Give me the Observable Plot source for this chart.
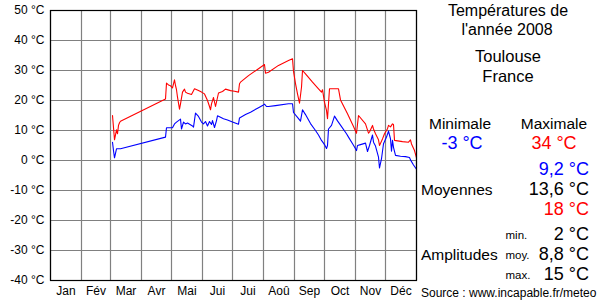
<!DOCTYPE html>
<html><head><meta charset="utf-8">
<script src="https://cdn.jsdelivr.net/npm/d3@7"></script>
<script src="https://cdn.jsdelivr.net/npm/@observablehq/plot@0.6"></script>
<style>
body{margin:0;background:#fff;}
#wrap{position:relative;width:600px;height:300px;font-family:"Liberation Sans",Arial,sans-serif;overflow:hidden;}
.t{position:absolute;white-space:nowrap;line-height:1;}
</style></head><body><div id="wrap"></div>
<script>
// Day of year (0 = 1 Jan 2008), temperature °C
const maxSeries = [[62,15],[64,6.9],[66,10.2],[67,8.9],[68,11.7],[69,12.6],[70,13.1],[115,20.5],[116,25.8],[118,25.2],[120,24.9],[122,24.2],[124,26.9],[125,25],[126,23.6],[127,21.1],[129,17.1],[130,18.9],[132,22.8],[134,23.8],[135,22.8],[137,22.4],[141,22],[144,23.9],[148,23.3],[151,22.8],[154,22.2],[157,20],[159,18],[160,16.9],[161,18.9],[163,21],[165,18],[168,22.5],[172,23],[175,23.8],[180,23.3],[184,23.1],[188,22.8],[189,25.6],[190,26.1],[198,28.3],[208,30.6],[214,32],[215,29.1],[218,29.4],[228,31.7],[238,33.3],[242,33.9],[243,29.7],[245,25.6],[247,22.2],[249,19.1],[251,24.4],[252,30],[255,28.9],[262,26.1],[268,23.9],[271,22.8],[272,23.6],[274,19.4],[276,16.7],[277,13.9],[278,18.9],[279,23.9],[288,23.9],[290,20.2],[297,15.6],[303,11.3],[306,9.1],[308,15],[315,12.2],[318,9.1],[319,9.5],[322,11.7],[323,10.5],[325,8.9],[328,6.9],[329,5],[332,7.2],[334,8.9],[337,10.6],[338,11.7],[340,11.2],[342,12.2],[343,12],[344,6.7],[352,6.3],[358,6.1],[360,6.9],[361,5.5],[364,3.3],[366,0.9]];
const minSeries = [[62,6.1],[63,3.3],[64,0.9],[66,3.9],[70,3.9],[115,7.8],[116,10.9],[122,10.9],[124,12.2],[126,12.8],[128,13.3],[130,13.8],[131,10.5],[133,12.8],[135,12.2],[137,12.5],[142,11.5],[143,11.1],[145,15.8],[148,14.7],[151,12.8],[153,12.2],[155,13],[157,11.5],[159,13],[161,12],[162,13.3],[164,11],[166,13.3],[167,14.9],[170,14.4],[173,13.9],[177,13.5],[182,12.8],[188,12.1],[189,14.2],[195,15.3],[200,16.1],[208,17.6],[212,18.3],[214,18.8],[216,18],[218,18],[225,18.3],[238,18.9],[242,18.9],[243,16],[247,14.4],[250,13.1],[252,16.9],[255,15.3],[260,12.3],[265,10],[268,8.5],[271,6.7],[273,5.8],[274,5.3],[276,4],[277,5],[278,10.5],[281,11.7],[284,14.8],[287,13.2],[290,11.8],[296,8.9],[298,7.8],[303,5.1],[306,3.3],[307,5],[310,5.3],[315,5.8],[317,3],[319,5],[322,8.5],[323,6.1],[325,4.8],[328,1.1],[329,-2.5],[331,0.6],[333,5.6],[336,7.8],[338,9.8],[339,8.5],[340,7.2],[341,3.1],[342,6.7],[343,4.4],[345,1.7],[350,1.4],[355,1.3],[359,1],[360,0.2],[363,-1.5],[366,-2.9]];

const monthLabels = ["Jan","Fév","Mar","Avr","Mai","Jui","Jui","Aoû","Sep","Oct","Nov","Déc"];
const monthStarts = [0,31,60,91,121,152,182,213,244,274,305,335,366];
const yTicks = [-40,-30,-20,-10,0,10,20,30,40,50];

// Side panel texts
const panelTexts = [
  ["Températures de", 508, 16, 16, "#000", "middle"],
  ["l'année 2008", 507, 35, 16, "#000", "middle"],
  ["Toulouse", 508, 62, 16.5, "#000", "middle"],
  ["France", 508, 81.5, 16.5, "#000", "middle"],
  ["Minimale", 460, 129, 15.5, "#000", "middle"],
  ["Maximale", 554, 129, 15.5, "#000", "middle"],
  ["-3 °C", 462, 149, 18, "#0000ff", "middle"],
  ["34 °C", 554, 149, 18, "#ff0000", "middle"],
  ["9,2 °C", 589, 175, 18, "#0000ff", "end"],
  ["Moyennes", 421, 194.5, 15.5, "#000", "start"],
  ["13,6 °C", 589, 195, 18, "#000", "end"],
  ["18 °C", 589, 214.5, 18, "#ff0000", "end"],
  ["min.", 505.5, 240, 11.5, "#000", "start"],
  ["2 °C", 589, 240, 18, "#000", "end"],
  ["Amplitudes", 421, 259.5, 15.5, "#000", "start"],
  ["moy.", 505.5, 260, 11.5, "#000", "start"],
  ["8,8 °C", 589, 260, 18, "#000", "end"],
  ["max.", 505.5, 279.5, 11.5, "#000", "start"],
  ["15 °C", 589, 279.5, 18, "#000", "end"],
  ["Source : www.incapable.fr/meteo", 421, 297, 12, "#000", "start"]
];

const monthMids = monthLabels.map((m, i) => (monthStarts[i] + monthStarts[i + 1]) / 2);

const plot = Plot.plot({
  width: 600, height: 300,
  marginLeft: 50, marginRight: 184, marginTop: 10, marginBottom: 20,
  style: {fontFamily: '"Liberation Sans", Arial, sans-serif', fontSize: "12px", color: "#000", background: "#fff"},
  x: {domain: [0, 366]},
  y: {domain: [-40, 50]},
  marks: [
    Plot.ruleY(yTicks, {stroke: "#808080", strokeWidth: 1.2, strokeOpacity: 1}),
    Plot.ruleX(monthStarts, {stroke: "#808080", strokeWidth: 1.2, strokeOpacity: 1}),
    Plot.line(maxSeries, {x: d => d[0], y: d => d[1], stroke: "#ff0000", strokeWidth: 1.1}),
    Plot.line(minSeries, {x: d => d[0], y: d => d[1], stroke: "#0000ff", strokeWidth: 1.1}),
    Plot.frame({stroke: "#000", strokeWidth: 1.2}),
    Plot.axisY(yTicks, {tickSize: 0, tickPadding: 6, tickFormat: d => `${d} °C`, label: null, fontSize: 12}),
    Plot.axisX(monthMids, {tickSize: 0, tickPadding: 6, tickFormat: d => monthLabels[monthMids.indexOf(d)], label: null, fontSize: 12})
  ]
});
const wrap = document.getElementById("wrap");
wrap.appendChild(plot);

for (const [txt, x, base, size, color, anchor] of panelTexts) {
  const el = document.createElement("div");
  el.className = "t";
  el.textContent = txt;
  el.style.fontSize = size + "px";
  el.style.color = color;
  el.style.left = x + "px";
  el.style.top = (base - 0.83 * size) + "px";
  if (anchor === "middle") el.style.transform = "translateX(-50%)";
  else if (anchor === "end") el.style.transform = "translateX(-100%)";
  wrap.appendChild(el);
}
</script></body></html>
